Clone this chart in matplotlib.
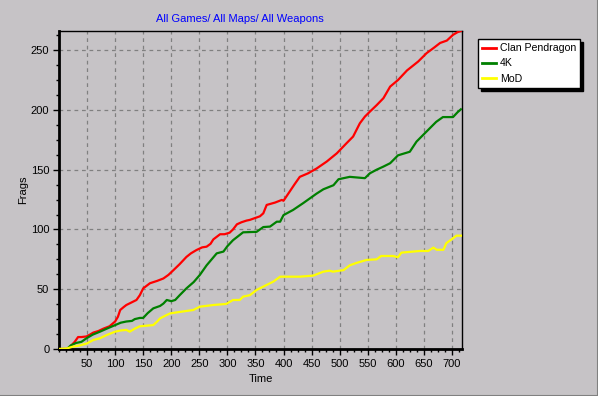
import numpy as np
import matplotlib
matplotlib.use('Agg')
import matplotlib.pyplot as plt
from matplotlib.lines import Line2D
from matplotlib.ticker import MultipleLocator

# ---- data (time, frags)
red_t = [0, 15, 20, 28, 34, 40, 49, 55, 61, 70, 79, 90, 100, 105, 109, 115, 120, 132, 138, 144,
         150, 162, 175, 186, 195, 204, 215, 227, 235, 245, 255, 263, 270, 275, 287, 295, 304, 310,
         317, 325, 334, 340, 352, 358, 364, 370, 385, 397, 400, 411, 420, 429, 444, 459, 477, 495,
         512, 524, 536, 545, 554, 566, 578, 590, 604, 620, 640, 655, 668, 679, 691, 702, 710, 716]
red_v = [0, 0, 2, 6, 10, 10, 10.5, 12, 13.7, 15, 17, 19, 23, 27, 32.6, 35, 36.8, 39.6, 41, 45,
         50.7, 55, 57, 59, 62, 66, 71, 77, 80, 82.8, 85, 85.6, 88, 91.7, 96, 96, 97.3, 100,
         104.3, 106, 107.4, 108, 110, 111, 113.5, 120.5, 122.5, 124.7, 124, 131.7, 138, 144, 147, 151, 156.8, 163.7,
         172, 177.7, 188.8, 194.4, 198.6, 204, 209.8, 219.5, 225, 233, 240.5, 247.5, 252, 256, 258, 262.8, 265, 266]

green_t = [0, 14, 21, 30, 40, 49, 60, 73, 85, 100, 110, 120, 130, 135, 144, 150, 158, 168, 180, 186,
           192, 200, 207, 215, 227, 240, 251, 263, 272, 281, 293, 300, 310, 328, 352, 364, 376, 388,
           394, 400, 417, 435, 447, 459, 471, 489, 498, 518, 545, 554, 566, 578, 590, 604, 625, 637,
           655, 672, 684, 702, 710, 716]
green_v = [0, 0, 3, 5, 6, 9, 12, 14.5, 17, 20, 22, 23, 23.5, 25, 26, 26, 30, 34, 36, 38,
           41, 40, 41, 45, 50.7, 56, 62, 70, 75, 80, 81.5, 86, 91, 97.6, 98, 102, 102.4, 106.5,
           106.5, 112, 116.3, 122, 126, 130, 133.6, 137, 142, 144, 142.9, 147, 150, 152.6, 155.4, 162, 165, 173.5,
           182, 190, 194, 194, 198, 200.5]

yellow_t = [0, 14, 25, 37, 49, 55, 61, 73, 85, 100, 110, 120, 126, 135, 144, 168, 175, 180, 190, 198,
            215, 239, 251, 275, 298, 310, 322, 328, 340, 352, 370, 382, 394, 429, 453, 471, 482, 488,
            507, 518, 530, 548, 566, 574, 595, 604, 610, 643, 658, 667, 673, 685, 690, 702, 708, 716]
yellow_v = [0, 0.5, 2, 3, 4.5, 6, 7.5, 9, 11.7, 14.5, 15.5, 16, 14.5, 17, 19, 20, 23, 25.6, 28, 29.8,
            31, 32.6, 35.4, 36.8, 37.7, 41, 41, 43.8, 45, 49.4, 53.6, 56.4, 60.5, 60.5, 61.4, 64.7, 65.5, 64.7,
            66, 70, 72, 74.5, 75, 77.8, 77.8, 76.8, 80.6, 82, 82, 84.8, 83, 83, 88.5, 92.6, 94.8, 94.8]

series_names = ['Clan Pendragon', '4K', 'MoD']
x_ticks = [50, 100, 150, 200, 250, 300, 350, 400, 450, 500, 550, 600, 650, 700]
y_ticks = [0, 50, 100, 150, 200, 250]

bg = '#c6c3c6'
plt.rcParams['font.family'] = ['Liberation Sans', 'DejaVu Sans']

fig = plt.figure(figsize=(5.98, 3.96), dpi=100, facecolor=bg)
ax = fig.add_axes([59 / 598, 47 / 396, 403 / 598, 318 / 396], facecolor=bg)

ax.plot(red_t, red_v, color='#ff0000', lw=1.6, label=series_names[0], zorder=3)
ax.plot(green_t, green_v, color='#008000', lw=1.6, label=series_names[1], zorder=3)
ax.plot(yellow_t, yellow_v, color='#ffff00', lw=1.6, label=series_names[2], zorder=3)

ax.set_xlim(0, 718)
ax.set_ylim(0, 266)
ax.set_xticks(x_ticks)
ax.set_yticks(y_ticks)
ax.xaxis.set_minor_locator(MultipleLocator(12.5))
ax.yaxis.set_minor_locator(MultipleLocator(12.5))
ax.tick_params(which='major', direction='out', length=4, width=1, labelsize=8, pad=3)
ax.tick_params(which='minor', direction='out', length=2, width=1)
ax.grid(True, which='major', color='#808080', linestyle=(0, (3, 3)), lw=0.9, zorder=1)

for s in ['top', 'right']:
    ax.spines[s].set_linewidth(1)
for s in ['left', 'bottom']:
    ax.spines[s].set_linewidth(2)

ax.set_xlabel('Time', fontsize=8, labelpad=4)
ax.set_ylabel('Frags', fontsize=8, labelpad=2)
fig.text(240 / 598, 1 - 19 / 396, 'All Games/ All Maps/ All Weapons', color='#0000ff',
         fontsize=8, ha='center', va='center')

leg = fig.legend(loc='upper left', bbox_to_anchor=(478 / 598, 1 - 39 / 396), fontsize=7.6,
                 frameon=True, fancybox=False, shadow={'color': 'black', 'alpha': 1},
                 handlelength=1.3, handletextpad=0.35, borderpad=0.4, labelspacing=0.5,
                 borderaxespad=0)
leg.get_frame().set_facecolor('white')
leg.get_frame().set_edgecolor('black')
leg.get_frame().set_linewidth(1)
leg.get_frame().set_alpha(1)
for h in leg.legend_handles:
    h.set_linewidth(2)

# window style border
fig.add_artist(Line2D([0, 1], [0.5 / 396, 0.5 / 396], color='#808080', lw=1.5))
fig.add_artist(Line2D([597.5 / 598, 597.5 / 598], [0, 1], color='#808080', lw=1.5))

fig.savefig('out.png', dpi=100, facecolor=bg)
